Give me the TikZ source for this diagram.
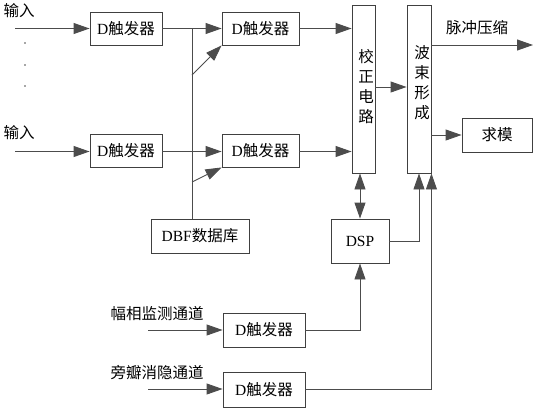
\documentclass[tikz,border=0pt]{standalone}
\usepackage{fontspec}
\setmainfont{Noto Sans CJK SC}
\newfontfamily\lat{Liberation Serif}
\usetikzlibrary{arrows.meta}
\tikzset{
  blk/.style={draw=black!75, line width=0.9pt, inner sep=0pt, font=\fontsize{15.5}{17}\selectfont},
  ln/.style={draw=black!70, line width=0.9pt},
  arr/.style={ln, -{Triangle[length=16pt,width=11pt]}},
  darr/.style={ln, {Triangle[length=16pt,width=11pt]}-{Triangle[length=16pt,width=11pt]}},
  lbl/.style={inner sep=0pt, font=\fontsize{15.5}{17}\selectfont},
  vtxt/.style={inner sep=0pt, align=center, font=\fontsize{15.5}{20}\selectfont}
}
\begin{document}
\begin{tikzpicture}[x=1pt,y=-1pt]
\useasboundingbox (0,0) rectangle (535,410);
% boxes
\node[blk, minimum width=72pt, minimum height=33pt] (d1) at (126,28.5) {{\lat D}触发器};
\node[blk, minimum width=77pt, minimum height=33pt] (d2) at (260.5,28.5) {{\lat D}触发器};
\node[blk, minimum width=72pt, minimum height=33pt] (d3) at (126,150.5) {{\lat D}触发器};
\node[blk, minimum width=77pt, minimum height=33pt] (d4) at (260.5,150.5) {{\lat D}触发器};
\node[blk, minimum width=98pt, minimum height=34pt] (dbf) at (200,236) {{\lat DBF}数据库};
\node[blk, minimum width=23pt, minimum height=168pt] (jz) at (363.5,89) {};
\node[vtxt] (jzt) at (366,87) {校\\正\\电\\路};
\node[blk, minimum width=24pt, minimum height=168pt] (bs) at (419,89) {};
\node[vtxt] (bst) at (422,83) {波\\束\\形\\成};
\node[blk, minimum width=70pt, minimum height=34pt] (qm) at (497,135) {求模};
\node[blk, minimum width=58pt, minimum height=44pt] (dsp) at (360,241) {{\lat DSP}};
\node[blk, minimum width=82pt, minimum height=34pt] (d5) at (264,330) {{\lat D}触发器};
\node[blk, minimum width=82pt, minimum height=35pt] (d6) at (264,389.5) {{\lat D}触发器};
% labels
\node[lbl] (in1) at (19,11) {输入};
\node[lbl] (in2) at (19,133) {输入};
\node[lbl] (mc) at (477,28) {脉冲压缩};
\node[lbl] (fx) at (157,314) {幅相监测通道};
\node[lbl] (pb) at (157,373) {旁瓣消隐通道};
% dots
\fill[black!70] (25,43) circle (0.8pt) (25,65) circle (0.8pt) (25,86) circle (0.8pt);
% coordinates
\coordinate (s1) at (15,28.5);
\coordinate (s3) at (15,151.5);
\coordinate (s5) at (148,330);
\coordinate (s6) at (148,389);
\coordinate (bt) at (192,28.5);
\coordinate (b1) at (192,75);
\coordinate (b2) at (192,182);
\coordinate (e1) at (533,45);
% connectors
\draw[arr] (s1) -- (d1.west);
\draw[arr] (s3) -- (d3.west |- s3);
\draw[arr] (d1.east) -- (d2.west);
\draw[arr] (d3.east |- s3) -- (d4.west |- s3);
\draw[ln] (bt) -- (dbf.north -| bt);
\draw[arr] (b1) -- (d2.south west);
\draw[arr] (b2) -- (d4.south west);
\draw[arr] (d2.east) -- (jz.west |- d2.east);
\draw[arr] (d4.east |- s3) -- (jz.west |- s3);
\draw[arr] (jz.east |- 0,87) -- (bs.west |- 0,87);
\draw[arr] (bs.east |- e1) -- (e1);
\draw[arr] (bs.east |- qm.west) -- (qm.west);
\draw[darr] (jz.south -| dsp.north) -- (dsp.north);
\draw[arr] (dsp.east) -| (bs.south -| 419,0);
\draw[arr] (s5) -- (d5.west);
\draw[arr] (d5.east) -| (dsp.south);
\draw[arr] (s6) -- (d6.west |- s6);
\draw[arr] (d6.east |- s6) -| (bs.south east);
\end{tikzpicture}
\end{document}
